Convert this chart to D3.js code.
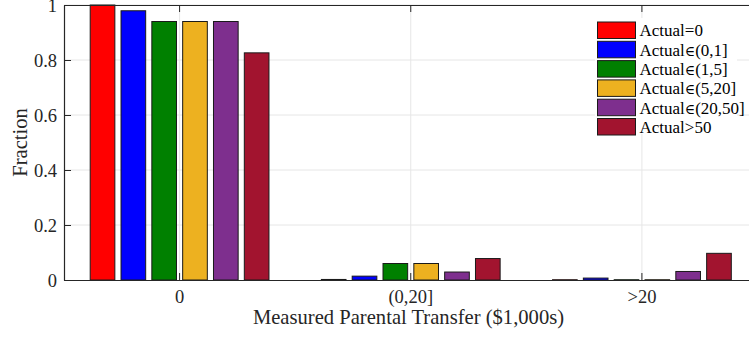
<!DOCTYPE html>
<html>
<head>
<meta charset="utf-8">
<script src="https://cdn.jsdelivr.net/npm/d3@7"></script>
<style>
  html, body { margin: 0; padding: 0; background: #fff; overflow: hidden; }
  svg { display: block; font-family: "Liberation Serif", "Times New Roman", serif; }
</style>
</head>
<body>
<svg id="chart" width="749" height="343"></svg>
<script>
// Measured transfer bins (x categories)
const categories = ["0", "(0,20]", ">20"];
// Actual transfer groups (one bar per group within each bin)
const seriesNames = ["Actual=0", "Actual\u2208(0,1]", "Actual\u2208(1,5]", "Actual\u2208(5,20]", "Actual\u2208(20,50]", "Actual>50"];
const seriesColors = ["#ff0000", "#0000ff", "#008000", "#edb120", "#7e2f8e", "#a2142f"];
// Fraction of each actual group falling in each measured bin
const actualZero   = [1.000, 0.002, 0.001];
const actual0to1   = [0.979, 0.014, 0.007];
const actual1to5   = [0.940, 0.060, 0.001];
const actual5to20  = [0.940, 0.060, 0.001];
const actual20to50 = [0.940, 0.029, 0.031];
const actualOver50 = [0.826, 0.078, 0.097];
const seriesValues = [actualZero, actual0to1, actual1to5, actual5to20, actual20to50, actualOver50];
const yTicks = [0, 0.2, 0.4, 0.6, 0.8, 1];
const yTickLabels = ["0", "0.2", "0.4", "0.6", "0.8", "1"];

const svg = d3.select("#chart");
const plot = { left: 64, right: 757.5, top: 5, bottom: 280 };

const x0 = d3.scaleBand().domain(categories).range([plot.left, plot.right]).padding(0);
const groupSpan = x0.bandwidth() * 0.8;
const x1 = d3.scaleBand().domain(d3.range(seriesNames.length))
  .range([0, groupSpan]).paddingInner(0.2).paddingOuter(0.1);
const y = d3.scaleLinear().domain([0, 1]).range([plot.bottom, plot.top]);

const gridColor = "#e6e6e6";
const axisColor = "#262626";
const serif = "'Liberation Serif', 'Times New Roman', serif";

// Grid lines
const grid = svg.append("g");
grid.selectAll("line.h").data(yTicks.slice(1)).join("line")
  .attr("x1", plot.left).attr("x2", plot.right)
  .attr("y1", d => y(d)).attr("y2", d => y(d))
  .attr("stroke", gridColor).attr("stroke-width", 1);
grid.selectAll("line.v").data(categories).join("line")
  .attr("x1", d => x0(d) + x0.bandwidth() / 2).attr("x2", d => x0(d) + x0.bandwidth() / 2)
  .attr("y1", plot.top).attr("y2", plot.bottom)
  .attr("stroke", gridColor).attr("stroke-width", 1);

// Bars
const bars = svg.append("g");
categories.forEach((cat, ci) => {
  const gx = x0(cat) + (x0.bandwidth() - groupSpan) / 2;
  bars.append("g").selectAll("rect").data(seriesValues.map((vals, si) => ({ si, v: vals[ci] })))
    .join("rect")
    .attr("x", d => gx + x1(d.si))
    .attr("width", x1.bandwidth())
    .attr("y", d => y(d.v))
    .attr("height", d => y(0) - y(d.v))
    .attr("fill", d => seriesColors[d.si])
    .attr("stroke", "#1a1a1a").attr("stroke-width", 1);
});

// Axes
const xAxisB = d3.axisBottom(x0).tickSizeInner(-7).tickSizeOuter(0).tickPadding(10);
const gxB = svg.append("g").attr("transform", `translate(0,${plot.bottom})`).call(xAxisB);
const xAxisT = d3.axisTop(x0).tickSizeInner(-7).tickSizeOuter(0).tickFormat("");
const gxT = svg.append("g").attr("transform", `translate(0,${plot.top})`).call(xAxisT);
const yAxis = d3.axisLeft(y).tickValues(yTicks).tickFormat((d, i) => yTickLabels[i])
  .tickSizeInner(-7).tickSizeOuter(0).tickPadding(7);
const gy = svg.append("g").attr("transform", `translate(${plot.left},0)`).call(yAxis);

[gxB, gxT, gy].forEach(g => {
  g.select(".domain").attr("stroke", axisColor).attr("stroke-width", 1.2);
  g.selectAll(".tick line").attr("stroke", axisColor).attr("stroke-width", 1);
  g.selectAll("text").attr("fill", "#262626")
    .style("font-family", serif)
    .style("font-size", "18.5px");
});
gy.selectAll("text").attr("dy", "0.35em");

// Axis titles
svg.append("text")
  .attr("x", (plot.left + 755) / 2 - 1).attr("y", 324)
  .attr("text-anchor", "middle").attr("fill", "#262626")
  .style("font-size", "20.6px")
  .text("Measured Parental Transfer ($1,000s)");
svg.append("text")
  .attr("transform", `translate(26.5,${(plot.top + plot.bottom) / 2}) rotate(-90)`)
  .attr("text-anchor", "middle").attr("fill", "#262626")
  .style("font-size", "20.6px")
  .text("Fraction");

// Legend
const legend = svg.append("g").attr("transform", "translate(595,18)");
legend.append("rect").attr("x", 0).attr("y", 0).attr("width", 142).attr("height", 116).attr("fill", "#fff");
const rowH = 19.3;
const items = legend.selectAll("g.item").data(seriesNames).join("g")
  .attr("transform", (d, i) => `translate(0,${4 + i * rowH})`);
items.append("rect")
  .attr("x", 2.5).attr("y", 0).attr("width", 38).attr("height", 16.5)
  .attr("fill", (d, i) => seriesColors[i])
  .attr("stroke", "#1a1a1a").attr("stroke-width", 1);
const labels = items.append("text")
  .attr("x", 44.5).attr("y", 8.5).attr("dy", "0.35em")
  .attr("fill", "#000")
  .style("font-size", "17px");
// The element-of sign is set a little smaller than the surrounding text
labels.each(function (d) {
  const t = d3.select(this);
  d.split(/(\u2208)/).forEach(part => {
    if (!part) return;
    const s = t.append("tspan").text(part);
    if (part === "\u2208") s.style("font-family", "'DejaVu Serif', serif").style("font-size", "14px");
  });
});
</script>
</body>
</html>
